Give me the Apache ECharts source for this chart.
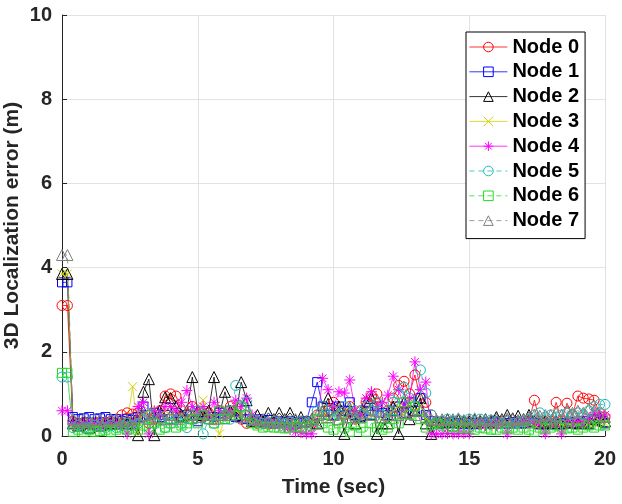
<!DOCTYPE html>
<html>
<head>
  <meta charset="utf-8">
  <title>3D Localization error</title>
  <script src="https://cdn.jsdelivr.net/npm/echarts@6/dist/echarts.min.js"></script>
  <style>
    html, body { margin: 0; padding: 0; background: #fff; }
    #chart { width: 622px; height: 504px; }
  </style>
</head>
<body>
<div id="chart"></div>
<script>
// time stamps (sec)
var times = [
  0, 0.2, 0.4, 0.6, 0.8, 1, 1.2, 1.4, 1.6, 1.8,
  2, 2.2, 2.4, 2.6, 2.8, 3, 3.2, 3.4, 3.6, 3.8,
  4, 4.2, 4.4, 4.6, 4.8, 5, 5.2, 5.4, 5.6, 5.8,
  6, 6.2, 6.4, 6.6, 6.8, 7, 7.2, 7.4, 7.6, 7.8,
  8, 8.2, 8.4, 8.6, 8.8, 9, 9.2, 9.4, 9.6, 9.8,
  10, 10.2, 10.4, 10.6, 10.8, 11, 11.2, 11.4, 11.6, 11.8,
  12, 12.2, 12.4, 12.6, 12.8, 13, 13.2, 13.4, 13.6, 13.8,
  14, 14.2, 14.4, 14.6, 14.8, 15, 15.2, 15.4, 15.6, 15.8,
  16, 16.2, 16.4, 16.6, 16.8, 17, 17.2, 17.4, 17.6, 17.8,
  18, 18.2, 18.4, 18.6, 18.8, 19, 19.2, 19.4, 19.6, 19.8,
  20
];

// localization error per node (m), one value per time stamp
var node0 = [
  3.1, 3.1, 0.35, 0.3, 0.32, 0.3, 0.28, 0.33, 0.3, 0.35,
  0.4, 0.5, 0.55, 0.52, 0.55, 0.45, 0.3, 0.4, 0.6, 0.95,
  1.0, 0.95, 0.6, 0.5, 0.7, 0.5, 0.45, 0.55, 0.4, 0.6,
  0.5, 0.7, 0.6, 0.4, 0.3, 0.35, 0.3, 0.3, 0.28, 0.3,
  0.3, 0.32, 0.3, 0.28, 0.3, 0.32, 0.3, 0.5, 0.7, 0.6,
  0.8, 0.6, 0.5, 0.7, 0.4, 0.6, 0.8, 0.95, 1.0, 0.7,
  0.6, 0.9, 1.2, 1.3, 1.0, 1.45, 0.9, 0.8, 0.5, 0.35,
  0.3, 0.3, 0.35, 0.3, 0.32, 0.3, 0.3, 0.28, 0.32, 0.3,
  0.3, 0.35, 0.3, 0.3, 0.32, 0.3, 0.35, 0.85, 0.35, 0.3,
  0.35, 0.8, 0.35, 0.78, 0.5, 0.95, 0.9, 0.88, 0.85, 0.55,
  0.45
];
var node1 = [
  3.65, 3.65, 0.45, 0.4, 0.42, 0.45, 0.4, 0.42, 0.45, 0.4,
  0.4, 0.35, 0.4, 0.38, 0.45, 0.7, 0.5, 0.55, 0.45, 0.5,
  0.4, 0.55, 0.45, 0.5, 0.4, 0.35, 0.5, 0.4, 0.45, 0.55,
  0.4, 0.6, 0.45, 0.5, 0.4, 0.35, 0.4, 0.35, 0.38, 0.3,
  0.35, 0.32, 0.35, 0.3, 0.32, 0.35, 0.8, 1.28, 0.7, 0.5,
  0.5, 0.7, 0.6, 0.8, 0.5, 0.45, 0.6, 0.5, 0.7, 0.55,
  0.5, 0.6, 0.7, 0.55, 0.8, 0.6, 0.9, 0.5, 0.35, 0.3,
  0.3, 0.32, 0.3, 0.3, 0.28, 0.3, 0.28, 0.3, 0.32, 0.3,
  0.35, 0.3, 0.3, 0.33, 0.3, 0.3, 0.32, 0.3, 0.3, 0.28,
  0.3, 0.28, 0.3, 0.3, 0.32, 0.3, 0.35, 0.3, 0.4, 0.35,
  0.3
];
var node2 = [
  3.85, 3.85, 0.3, 0.25, 0.3, 0.2, 0.3, 0.25, 0.3, 0.3,
  0.3, 0.35, 0.3, 0.3, 0.02, 1.05, 1.35, 0.02, 0.6, 0.92,
  0.9, 0.7, 0.5, 0.6, 1.4, 0.6, 0.5, 0.6, 1.4, 0.5,
  1.05, 0.6, 0.5, 1.28, 0.85, 0.35, 0.5, 0.35, 0.55, 0.4,
  0.55, 0.4, 0.55, 0.38, 0.45, 0.35, 0.4, 0.3, 0.6, 0.9,
  0.5, 0.7, 0.05, 0.6, 0.3, 0.5, 0.8, 0.9, 0.05, 0.3,
  0.3, 0.7, 0.05, 0.8, 0.4, 0.6, 0.9, 0.3, 0.05, 0.35,
  0.35, 0.4, 0.35, 0.38, 0.35, 0.35, 0.38, 0.35, 0.4, 0.35,
  0.45, 0.4, 0.5, 0.42, 0.48, 0.4, 0.5, 0.35, 0.3, 0.35,
  0.3, 0.35, 0.3, 0.35, 0.32, 0.3, 0.35, 0.3, 0.4, 0.45,
  0.35
];
var node3 = [
  3.85, 3.85, 0.3, 0.25, 0.3, 0.3, 0.25, 0.3, 0.28, 0.3,
  0.3, 0.35, 0.3, 1.17, 0.1, 0.5, 0.6, 0.4, 0.5, 0.6,
  0.5, 0.6, 0.5, 0.4, 0.5, 0.6, 0.85, 0.5, 0.4, 0.05,
  0.4, 0.5, 0.6, 0.5, 0.4, 0.3, 0.35, 0.3, 0.3, 0.32,
  0.3, 0.28, 0.3, 0.32, 0.3, 0.3, 0.35, 0.5, 0.6, 0.4,
  0.5, 0.6, 0.4, 0.7, 0.5, 0.4, 0.6, 0.5, 0.8, 0.4,
  0.5, 0.6, 0.7, 0.5, 0.8, 0.6, 0.7, 0.4, 0.3, 0.3,
  0.3, 0.32, 0.3, 0.28, 0.3, 0.3, 0.28, 0.3, 0.3, 0.32,
  0.3, 0.28, 0.3, 0.3, 0.32, 0.3, 0.3, 0.28, 0.3, 0.32,
  0.3, 0.3, 0.28, 0.3, 0.32, 0.3, 0.35, 0.3, 0.3, 0.35,
  0.3
];
var node4 = [
  0.6, 0.6, 0.3, 0.25, 0.3, 0.25, 0.3, 0.25, 0.3, 0.28,
  0.3, 0.25, 0.05, 0.3, 0.7, 0.8, 0.05, 0.6, 0.5, 0.7,
  0.7, 0.6, 0.8, 1.08, 0.7, 0.6, 0.7, 0.5, 0.8, 0.6,
  0.5, 0.6, 0.85, 0.7, 0.9, 0.5, 0.35, 0.3, 0.3, 0.3,
  0.25, 0.2, 0.15, 0.1, 0.08, 0.05, 0.05, 0.3, 1.37, 1.1,
  0.7, 1.05, 1.02, 1.33, 0.6, 0.5, 0.9, 1.05, 0.7, 0.8,
  0.97, 1.42, 1.1, 0.7, 0.9, 1.76, 1.1, 1.28, 0.05, 0.05,
  0.05, 0.06, 0.05, 0.05, 0.06, 0.05, 0.3, 0.3, 0.25, 0.3,
  0.25, 0.3, 0.05, 0.3, 0.3, 0.35, 0.3, 0.3, 0.28, 0.05,
  0.3, 0.3, 0.05, 0.3, 0.3, 0.35, 0.3, 0.4, 0.55, 0.5,
  0.5
];
var node5 = [
  1.4, 1.4, 0.2, 0.25, 0.2, 0.2, 0.25, 0.22, 0.2, 0.25,
  0.2, 0.25, 0.3, 0.25, 0.3, 0.4, 0.5, 0.3, 0.4, 0.2,
  0.3, 0.4, 0.3, 0.2, 0.5, 0.6, 0.05, 0.4, 0.3, 0.4,
  0.5, 0.4, 1.2, 0.7, 0.8, 0.4, 0.35, 0.3, 0.3, 0.35,
  0.3, 0.3, 0.32, 0.3, 0.35, 0.3, 0.35, 0.6, 0.7, 0.5,
  0.6, 0.5, 0.7, 0.4, 0.6, 0.5, 0.7, 0.6, 0.8, 0.5,
  0.6, 0.8, 1.0, 1.16, 0.9, 0.7, 1.57, 1.02, 0.5, 0.35,
  0.35, 0.4, 0.35, 0.38, 0.35, 0.4, 0.35, 0.4, 0.35, 0.38,
  0.35, 0.3, 0.35, 0.3, 0.32, 0.35, 0.4, 0.5, 0.55, 0.45,
  0.5, 0.45, 0.5, 0.55, 0.5, 0.55, 0.5, 0.6, 0.7, 0.75,
  0.75
];
var node6 = [
  1.5, 1.5, 0.1, 0.15, 0.1, 0.15, 0.1, 0.12, 0.15, 0.1,
  0.15, 0.2, 0.15, 0.2, 0.15, 0.25, 0.2, 0.3, 0.15, 0.2,
  0.3, 0.2, 0.25, 0.3, 0.4, 0.3, 0.5, 0.4, 0.3, 0.6,
  0.4, 0.6, 0.5, 0.7, 0.5, 0.3, 0.25, 0.2, 0.22, 0.2,
  0.2, 0.18, 0.2, 0.22, 0.2, 0.2, 0.25, 0.4, 0.3, 0.2,
  0.15, 0.3, 0.2, 0.1, 0.25, 0.2, 0.1, 0.3, 0.2, 0.15,
  0.2, 0.4, 0.3, 0.8, 0.5, 0.7, 0.4, 0.2, 0.25, 0.3,
  0.25, 0.2, 0.22, 0.2, 0.18, 0.2, 0.15, 0.2, 0.18, 0.15,
  0.15, 0.2, 0.18, 0.2, 0.15, 0.2, 0.15, 0.1, 0.2, 0.18,
  0.2, 0.25, 0.2, 0.18, 0.2, 0.15, 0.2, 0.25, 0.2, 0.25,
  0.25
];
var node7 = [
  4.3, 4.3, 0.4, 0.35, 0.4, 0.35, 0.4, 0.38, 0.35, 0.4,
  0.4, 0.35, 0.38, 0.4, 0.45, 0.5, 0.4, 0.55, 0.45, 0.4,
  0.5, 0.4, 0.45, 0.6, 0.5, 0.45, 0.55, 0.5, 0.4, 0.5,
  0.55, 0.5, 0.6, 0.45, 0.5, 0.4, 0.38, 0.4, 0.35, 0.38,
  0.35, 0.38, 0.35, 0.4, 0.35, 0.35, 0.4, 0.5, 0.6, 0.45,
  0.5, 0.4, 0.55, 0.45, 0.5, 0.45, 0.55, 0.5, 0.6, 0.45,
  0.5, 0.6, 0.5, 0.55, 0.6, 0.5, 0.6, 0.45, 0.4, 0.38,
  0.4, 0.38, 0.4, 0.42, 0.38, 0.4, 0.42, 0.38, 0.4, 0.38,
  0.4, 0.38, 0.42, 0.4, 0.38, 0.4, 0.45, 0.5, 0.48, 0.5,
  0.5, 0.55, 0.5, 0.6, 0.55, 0.6, 0.55, 0.65, 0.6, 0.5,
  0.45
];

var names = ['Node 0', 'Node 1', 'Node 2', 'Node 3', 'Node 4', 'Node 5', 'Node 6', 'Node 7'];
var values = [node0, node1, node2, node3, node4, node5, node6, node7];
var colors = ['#ff0000', '#0000ff', '#000000', '#d2d200', '#ff00ff', '#20b8b8', '#22dd22', '#808080'];
var dashed = [false, false, false, false, false, true, true, true];

// marker outlines (matlab o, s, ^, x, *)
var symCircle = 'circle';
var symSquare = 'rect';
var symTri = 'triangle';
var symX = 'path://M0,0L10,10M10,0L0,10';
var symStar = 'path://M5,0L5,10M0,5L10,5M1.5,1.5L8.5,8.5M8.5,1.5L1.5,8.5';
var symbols = [symCircle, symSquare, symTri, symX, symStar, symCircle, symSquare, symTri];
var sizes = [10, 9, 11, 9, 11, 10, 9, 11];

var font = 'Liberation Sans, Arial, sans-serif';

var series = [];
var legendData = [];
for (var k = 0; k < names.length; k++) {
  var pts = [];
  for (var i = 0; i < times.length; i++) {
    pts.push([times[i], values[k][i]]);
  }
  var ls = { color: colors[k], width: 0.8, type: dashed[k] ? [5, 4] : 'solid' };
  var is = { color: 'rgba(0,0,0,0)', borderColor: colors[k], borderWidth: 1 };
  series.push({
    name: names[k],
    type: 'line',
    data: pts,
    symbol: symbols[k],
    symbolSize: sizes[k],
    showAllSymbol: true,
    animation: false,
    lineStyle: ls,
    itemStyle: is,
    emphasis: { disabled: true }
  });
  legendData.push({ name: names[k], itemStyle: is, lineStyle: ls });
}

var myChart = echarts.init(document.getElementById('chart'));
var option = {
  backgroundColor: '#fff',
  animation: false,
  grid: { left: 62, right: 17, top: 15, bottom: 68, containLabel: false, outerBoundsMode: 'none' },
  legend: {
    orient: 'vertical',
    left: 466,
    top: 32,
    padding: [5, 6, 8, 3],
    itemWidth: 38,
    itemHeight: 12,
    itemGap: 4.8,
    backgroundColor: '#fff',
    borderColor: '#000',
    borderWidth: 1,
    borderRadius: 0,
    data: legendData,
    textStyle: { fontFamily: font, fontWeight: 'bold', fontSize: 20, lineHeight: 20, color: '#000' }
  },
  xAxis: {
    type: 'value',
    min: 0,
    max: 20,
    interval: 5,
    name: 'Time (sec)',
    nameLocation: 'middle',
    nameGap: 41,
    nameMoveOverlap: false,
    nameTextStyle: { fontFamily: font, fontWeight: 'bold', fontSize: 21, color: '#262626' },
    axisLine: { show: true, lineStyle: { color: '#262626', width: 1 } },
    axisTick: { show: true, inside: true, length: 5, lineStyle: { color: '#262626' } },
    axisLabel: { fontFamily: font, fontWeight: 'bold', fontSize: 20, color: '#262626', margin: 13 },
    splitLine: { show: true, lineStyle: { color: '#e2e2e2', width: 1 } }
  },
  yAxis: {
    type: 'value',
    min: 0,
    max: 10,
    interval: 2,
    name: '3D Localization error (m)',
    nameLocation: 'middle',
    nameGap: 39,
    nameMoveOverlap: false,
    nameTextStyle: { fontFamily: font, fontWeight: 'bold', fontSize: 21, color: '#262626' },
    axisLine: { show: true, lineStyle: { color: '#262626', width: 1 } },
    axisTick: { show: true, inside: true, length: 5, lineStyle: { color: '#262626' } },
    axisLabel: { fontFamily: font, fontWeight: 'bold', fontSize: 20, color: '#262626', margin: 10 },
    splitLine: { show: true, lineStyle: { color: '#e2e2e2', width: 1 } }
  },
  series: series
};
myChart.setOption(option);
</script>
</body>
</html>
